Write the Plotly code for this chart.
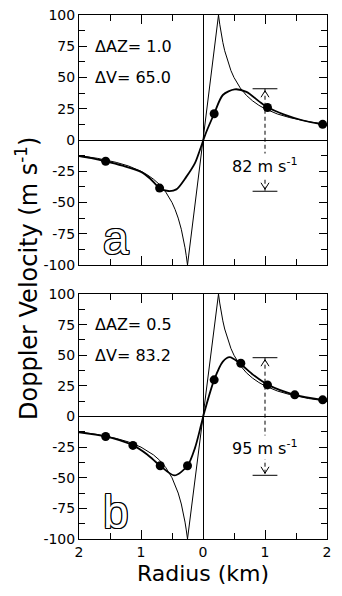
import plotly.graph_objects as go

# ---------------- data ----------------
# Rankine (true) vortex profile, thin line; same in both panels
RANK_R = [-2.0, -1.7, -1.4, -1.2, -1.0, -0.9, -0.8, -0.7, -0.6, -0.5, -0.45, -0.4, -0.35, -0.32, -0.29, -0.27, -0.25,
          0.0,
          0.25, 0.27, 0.29, 0.32, 0.35, 0.4, 0.45, 0.5, 0.6, 0.7, 0.8, 0.9, 1.0, 1.2, 1.4, 1.7, 2.0]
RANK_V = [-12.5, -14.7, -17.9, -20.8, -25.0, -27.8, -31.3, -35.7, -41.7, -50.0, -55.6, -62.5, -71.4, -78.1, -86.2, -92.6, -100.0,
          0.0,
          100.0, 92.6, 86.2, 78.1, 71.4, 62.5, 55.6, 50.0, 41.7, 35.7, 31.3, 27.8, 25.0, 20.8, 17.9, 14.7, 12.5]

# panel a: simulated Doppler velocity (bold) and samples (dots)
A_CURVE_R = [-2.0, -1.8, -1.57, -1.3, -1.0, -0.85, -0.70, -0.56, -0.43, -0.27, -0.13, -0.05, 0.05, 0.18, 0.32, 0.51, 0.70, 0.91, 1.05, 1.3, 1.6, 1.93, 2.0]
A_CURVE_V = [-12.8, -14.5, -17.0, -20.5, -25.5, -31.0, -38.5, -40.8, -39.5, -29.5, -18.5, -8.0, 6.0, 21.0, 36.0, 40.5, 38.5, 30.7, 26.0, 20.5, 15.8, 12.5, 12.2]
A_DOT_R = [-1.57, -0.70, 0.18, 1.04, 1.93]
A_DOT_V = [-17.0, -38.5, 21.0, 26.0, 12.5]

# panel b
B_CURVE_R = [-2.0, -1.57, -1.13, -0.90, -0.69, -0.46, -0.25, -0.13, -0.03, 0.03, 0.18, 0.32, 0.43, 0.59, 0.81, 1.05, 1.48, 1.93, 2.0]
B_CURVE_V = [-13.0, -16.3, -23.6, -31.0, -40.2, -48.1, -40.2, -25.8, -6.8, 5.0, 29.9, 44.8, 48.4, 43.5, 34.0, 25.8, 17.7, 13.6, 13.2]
B_DOT_R = [-1.57, -1.13, -0.69, -0.25, 0.18, 0.61, 1.04, 1.48, 1.93]
B_DOT_V = [-16.3, -23.6, -40.2, -40.2, 29.9, 43.5, 25.8, 17.7, 13.6]

# panel labels / parameters
PANEL_LETTERS = ["a", "b"]
DAZ_TEXT = ["ΔAZ= 1.0", "ΔAZ= 0.5"]
DV_TEXT = ["ΔV= 65.0", "ΔV= 83.2"]
SHEAR_TEXT = ["82 m s<sup>-1</sup>", "95 m s<sup>-1</sup>"]
SHEAR_HALF = [41.0, 48.0]          # +/- velocity where the bars sit
SHEAR_LABEL_V = [-20.0, -25.0]
SHEAR_R = 1.0

X_TICKS = [-2, -1, 0, 1, 2]
X_TICKTEXT = ["2", "1", "0", "1", "2"]
Y_TICKS = [-100, -75, -50, -25, 0, 25, 50, 75, 100]
Y_TICKTEXT = ["-100", "-75", "-50", "-25", "0", "25", "50", "75", "100"]

# ---------------- figure ----------------
W, H = 342, 596
ML, MR, MT, MB = 79, 15, 15, 57
PW, PH = W - ML - MR, H - MT - MB
TOP_DOM = [(539 - 265) / PH, 1.0]
BOT_DOM = [0.0, (539 - 294) / PH]

TICKFONT = dict(family="DejaVu Sans", size=14, color="black")

fig = go.Figure()

panels = [
    ("x", "y", A_CURVE_R, A_CURVE_V, A_DOT_R, A_DOT_V, TOP_DOM),
    ("x2", "y2", B_CURVE_R, B_CURVE_V, B_DOT_R, B_DOT_V, BOT_DOM),
]

shapes = []
annotations = []
for i, (xa, ya, cr, cv, dr, dv, dom) in enumerate(panels):
    fig.add_trace(go.Scatter(x=RANK_R, y=RANK_V, xaxis=xa, yaxis=ya, mode="lines",
                             line=dict(color="black", width=1), hoverinfo="skip"))
    fig.add_trace(go.Scatter(x=cr, y=cv, xaxis=xa, yaxis=ya, mode="lines",
                             line=dict(color="black", width=1.8, shape="spline", smoothing=0.8),
                             hoverinfo="skip"))
    fig.add_trace(go.Scatter(x=dr, y=dv, xaxis=xa, yaxis=ya, mode="markers",
                             marker=dict(color="black", size=9), hoverinfo="skip"))

    # pixel scales for arrow heads
    px_per_km = PW / 4.0
    px_per_v = (dom[1] - dom[0]) * PH / 200.0
    hw = 4 / px_per_km
    gap = 2 / px_per_v
    hh = 6.5 / px_per_v
    bar = 0.2
    top = SHEAR_HALF[i]
    bot = -SHEAR_HALF[i]
    shapes += [
        dict(type="line", xref=xa, yref=ya, x0=SHEAR_R, x1=SHEAR_R, y0=top, y1=bot,
             line=dict(color="black", width=1, dash="4px,3px")),
        dict(type="line", xref=xa, yref=ya, x0=SHEAR_R - bar, x1=SHEAR_R + bar, y0=top, y1=top,
             line=dict(color="black", width=1)),
        dict(type="line", xref=xa, yref=ya, x0=SHEAR_R - bar, x1=SHEAR_R + bar, y0=bot, y1=bot,
             line=dict(color="black", width=1)),
        dict(type="path", xref=xa, yref=ya,
             path=f"M {SHEAR_R - hw} {top - gap - hh} L {SHEAR_R} {top - gap} L {SHEAR_R + hw} {top - gap - hh}",
             line=dict(color="black", width=1)),
        dict(type="path", xref=xa, yref=ya,
             path=f"M {SHEAR_R - hw} {bot + gap + hh} L {SHEAR_R} {bot + gap} L {SHEAR_R + hw} {bot + gap + hh}",
             line=dict(color="black", width=1)),
    ]
    annotations += [
        dict(x=SHEAR_R, y=SHEAR_LABEL_V[i], xref=xa, yref=ya, text=SHEAR_TEXT[i], showarrow=False,
             xanchor="center", yanchor="middle", bgcolor="white",
             font=dict(family="DejaVu Sans", size=16, color="black")),
        dict(x=-1.78, y=75, xref=xa, yref=ya, text=DAZ_TEXT[i], showarrow=False,
             xanchor="left", yanchor="middle", font=dict(family="DejaVu Sans", size=16, color="black")),
        dict(x=-1.78, y=50, xref=xa, yref=ya, text=DV_TEXT[i], showarrow=False,
             xanchor="left", yanchor="middle", font=dict(family="DejaVu Sans", size=16, color="black")),
        dict(x=-1.40, y=-78, xref=xa, yref=ya, text=PANEL_LETTERS[i], showarrow=False,
             xanchor="center", yanchor="middle",
             font=dict(family="Liberation Sans", size=46, color="white",
                       shadow="1px 0 0 #000, -1px 0 0 #000, 0 1px 0 #000, 0 -1px 0 #000, 1px 1px 0 #000, -1px -1px 0 #000, 1px -1px 0 #000, -1px 1px 0 #000")),
    ]

annotations.append(dict(x=(27 - ML) / PW, y=(539 - 279) / PH, xref="paper", yref="paper",
                        text="Doppler Velocity (m s<sup>-1</sup>)", textangle=-90, showarrow=False,
                        xanchor="center", yanchor="middle",
                        font=dict(family="DejaVu Sans", size=24, color="black")))

common_x = dict(range=[-2, 2], tickvals=X_TICKS, ticktext=X_TICKTEXT, ticks="inside", ticklen=9,
                tickcolor="black", tickwidth=1, showline=True, linecolor="black", linewidth=1,
                mirror="allticks", zeroline=True, zerolinecolor="black", zerolinewidth=1,
                showgrid=False, tickfont=TICKFONT,
                minor=dict(dtick=0.5, tick0=0, ticks="inside", ticklen=6, tickcolor="black", showgrid=False))
common_y = dict(range=[-100, 100], tickvals=Y_TICKS, ticktext=Y_TICKTEXT, ticks="inside", ticklen=8,
                tickcolor="black", tickwidth=1, showline=True, linecolor="black", linewidth=1,
                mirror="allticks", zeroline=True, zerolinecolor="black", zerolinewidth=1,
                showgrid=False, tickfont=TICKFONT,
                minor=dict(dtick=12.5, tick0=0, ticks="inside", ticklen=6, tickcolor="black", showgrid=False))

fig.update_layout(
    width=W, height=H, margin=dict(l=ML, r=MR, t=MT, b=MB, autoexpand=False),
    paper_bgcolor="white", plot_bgcolor="white", showlegend=False,
    xaxis=dict(common_x, anchor="y", domain=[0, 1], showticklabels=False),
    yaxis=dict(common_y, anchor="x", domain=TOP_DOM),
    xaxis2=dict(common_x, anchor="y2", domain=[0, 1], matches="x",
                title=dict(text="Radius (km)", font=dict(family="DejaVu Sans", size=22, color="black"), standoff=6)),
    yaxis2=dict(common_y, anchor="x2", domain=BOT_DOM),
    shapes=shapes, annotations=annotations,
)

fig.write_html("out.html")
